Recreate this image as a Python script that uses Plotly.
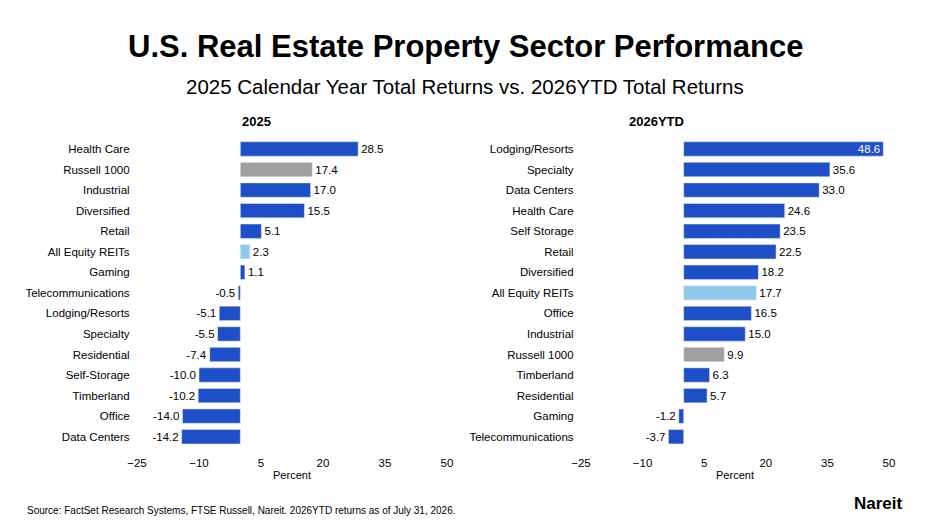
import plotly.graph_objects as go

cat25 = ["Health Care","Russell 1000","Industrial","Diversified","Retail","All Equity REITs","Gaming",
         "Telecommunications","Lodging/Resorts","Specialty","Residential","Self-Storage","Timberland","Office","Data Centers"]
val25 = [28.5,17.4,17.0,15.5,5.1,2.3,1.1,-0.5,-5.1,-5.5,-7.4,-10.0,-10.2,-14.0,-14.2]
cat26 = ["Lodging/Resorts","Specialty","Data Centers","Health Care","Self Storage","Retail","Diversified",
         "All Equity REITs","Office","Industrial","Russell 1000","Timberland","Residential","Gaming","Telecommunications"]
val26 = [48.6,35.6,33.0,24.6,23.5,22.5,18.2,17.7,16.5,15.0,9.9,6.3,5.7,-1.2,-3.7]
ticks = [-25,-10,5,20,35,50]

BLUE, GRAY, LIGHT = "#1f4fc6", "#a0a0a0", "#8fc9e9"
def colors(cats):
    return [GRAY if c == "Russell 1000" else LIGHT if c == "All Equity REITs" else BLUE for c in cats]

fig = go.Figure()
for cats, vals, xa, ya in [(cat25, val25, "x", "y"), (cat26, val26, "x2", "y2")]:
    pos = ["inside" if v > 45 else "outside" for v in vals]
    tc = ["white" if v > 45 else "black" for v in vals]
    fig.add_trace(go.Bar(y=cats, x=vals, orientation="h", marker_color=colors(cats), width=0.7,
                         text=[f"{v:.1f}" for v in vals], textposition=pos, textfont=dict(color=tc, size=11.5),
                         insidetextanchor="end", cliponaxis=False, xaxis=xa, yaxis=ya, showlegend=False))

W, H, DX, DY = 930, 525, 8, 7
font = "Liberation Sans, Arial, sans-serif"
axx = dict(range=[-25, 50], tickvals=ticks, showgrid=False, zeroline=False, showline=False, automargin=False,
           ticklabelstandoff=7,
           tickfont=dict(size=11.5, color="black"), title=dict(text="Percent", font=dict(size=11), standoff=3))
axy = dict(autorange="reversed", showgrid=False, showline=False, ticks="", automargin=False,
           tickfont=dict(size=11.5, color="black"),
           domain=[1 - (446 - DY) / H, 1 - (137.7 - DY) / H], ticksuffix="  ")
fig.update_layout(
    width=W, height=H, margin=dict(l=0, r=0, t=0, b=0, autoexpand=False),
    plot_bgcolor="white", paper_bgcolor="white",
    font=dict(family=font, color="black"),
    uniformtext=dict(minsize=11, mode="show"),
    xaxis=dict(axx, domain=[(137 - DX) / W, (447 - DX) / W], anchor="y"),
    yaxis=dict(axy, anchor="x"),
    xaxis2=dict(axx, domain=[(581 - DX) / W, (889 - DX) / W], anchor="y2"),
    yaxis2=dict(axy, anchor="x2"),
    annotations=[
        dict(text="<b>U.S. Real Estate Property Sector Performance</b>", x=465, y=45, font=dict(size=31)),
        dict(text="2025 Calendar Year Total Returns vs. 2026YTD Total Returns", x=465, y=85, font=dict(size=20.5)),
        dict(text="<b>2025</b>", x=240, y=121, font=dict(size=13)),
        dict(text="<b>2026YTD</b>", x=686, y=121, font=dict(size=13)),
        dict(text="Source: FactSet Research Systems, FTSE Russell, Nareit. 2026YTD returns as of July 31, 2026.",
             x=25, y=509, xanchor="left", font=dict(size=10)),
        dict(text="<b>Nareit</b>", x=905, y=502, xanchor="right", font=dict(size=17)),
    ],
)
for a in fig.layout.annotations:
    a.xref = "paper"; a.yref = "paper"; a.showarrow = False; a.yanchor = "middle"
    a.x = (a.x - DX) / W
    a.y = 1 - (a.y - DY) / H
fig.write_html("out.html")
